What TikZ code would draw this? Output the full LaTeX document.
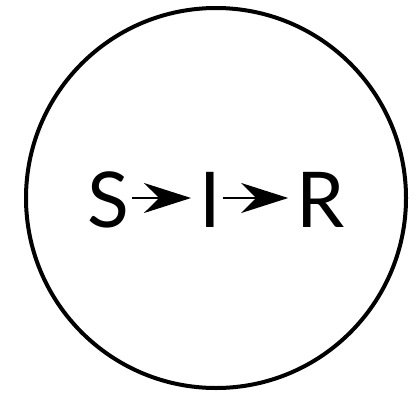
\documentclass[tikz,border=0pt]{standalone}
\usepackage{fontspec}
\setmainfont{Lato}
\usetikzlibrary{arrows.meta}
\begin{document}
\begin{tikzpicture}[
  x=1pt, y=1pt,
  state/.style={inner sep=0pt, anchor=base, font=\fontsize{77}{80}\selectfont},
  arr/.style={-{Stealth[length=47pt, width=30pt, inset=15pt]}, line width=1.5pt, black}
]
\useasboundingbox (0,0) rectangle (419,392);
\draw[line width=4pt] (216,194) circle (190);
\node[state] (S) at (108.5,165) {S};
\node[state] (I) at (210,165) {I};
\node[state] (R) at (320.5,165) {R};
\draw[arr] ([xshift=2pt, yshift=29pt]S.base east) -- ([xshift=-8pt, yshift=29pt]I.base west);
\draw[arr] ([xshift=2pt, yshift=29pt]I.base east) -- ([xshift=-8pt, yshift=29pt]R.base west);
\end{tikzpicture}
\end{document}
